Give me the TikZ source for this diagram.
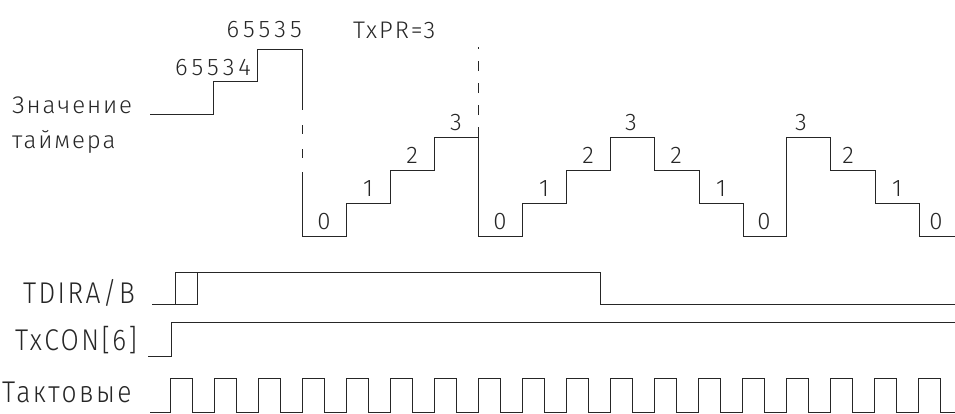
\documentclass[tikz,border=0pt]{standalone}
\usepackage{fontspec}
\setmainfont{Fira Sans}[UprightFont=* Light, LetterSpace=8]
\newfontfamily\bigfont{Fira Sans}[UprightFont=* Light, LetterSpace=8, FakeStretch=0.88]
\newfontfamily\numfont{Fira Sans}[UprightFont=* Light, LetterSpace=17]
\begin{document}
\begin{tikzpicture}[x=1pt,y=-1pt,
  wave/.style={line width=1pt, draw=black!85, line join=miter},
  lab/.style={inner sep=0pt, font=\fontsize{24}{24}\selectfont, text=black!85},
  num/.style={inner sep=0pt, font=\numfont\fontsize{24}{24}\selectfont, text=black!85},
  big/.style={inner sep=0pt, font=\bigfont\fontsize{30}{30}\selectfont, text=black!85},
  dig/.style={inner sep=0pt, anchor=base, font=\fontsize{24}{24}\selectfont, text=black!85}]
\useasboundingbox (0,0) rectangle (955,413);
% labels
\node[lab, anchor=base west] (znach) at (12,113) {Значение};
\node[lab, anchor=base west] (taim) at (12,148) {таймера};
\node[num, anchor=base east] (v34) at (251,75) {65534};
\node[num, anchor=base east] (v35) at (302,37) {65535};
\node[lab, anchor=base west] (txpr) at (353,38) {TxPR=3};
\node[big, anchor=base west] (tdira) at (23,303) {TDIRA/B};
\node[big, anchor=base west] (txcon) at (15,350) {TxCON[6]};
\node[big, anchor=base west] (takt) at (2,402) {Тактовые};
% timer waveform
\draw[wave] (150,114) -- (213,114) -- (213,81) -- (257,81) -- (257,49) -- (302,49) -- (302,110);
\draw[wave] (302,125) -- (302,134);
\draw[wave] (302,149) -- (302,158);
\draw[wave] (302,172) -- (302,236) -- (346,236) -- (346,203) -- (390,203) -- (390,170)
  -- (434,170) -- (434,137) -- (478,137) -- (478,236) -- (522,236) -- (522,203)
  -- (566,203) -- (566,170) -- (610,170) -- (610,137) -- (654,137) -- (654,170)
  -- (699,170) -- (699,203) -- (743,203) -- (743,236) -- (786,236) -- (786,137)
  -- (830,137) -- (830,170) -- (875,170) -- (875,203) -- (919,203) -- (919,236) -- (955,236);
\draw[wave, dash pattern=on 10pt off 12pt] (478,137) -- (478,47);
% step values
\node[dig] (s0a) at (324,229) {0};
\node[dig] (s1a) at (368,196) {1};
\node[dig] (s2a) at (412,163) {2};
\node[dig] (s3a) at (456,130) {3};
\node[dig] (s0b) at (500,229) {0};
\node[dig] (s1b) at (544,196) {1};
\node[dig] (s2b) at (588,163) {2};
\node[dig] (s3b) at (631,130) {3};
\node[dig] (s2c) at (676,163) {2};
\node[dig] (s1c) at (721,196) {1};
\node[dig] (s0c) at (764,229) {0};
\node[dig] (s3c) at (801,130) {3};
\node[dig] (s2d) at (848,163) {2};
\node[dig] (s1d) at (897,196) {1};
\node[dig] (s0d) at (936,229) {0};
% TDIRA/B
\draw[wave] (152,304) -- (197,304) -- (197,272);
\draw[wave] (175,304) -- (175,272) -- (600,272) -- (600,304) -- (955,304);
% TxCON[6]
\draw[wave] (148,356) -- (171,356) -- (171,322) -- (955,322);
% clock
\draw[wave] (150,412) foreach \k in {0,...,17} {
  -- ({170.5+44*\k},412) -- ({170.5+44*\k},378) -- ({192+44*\k},378) -- ({192+44*\k},412) }
  -- (955,412);
\end{tikzpicture}
\end{document}
